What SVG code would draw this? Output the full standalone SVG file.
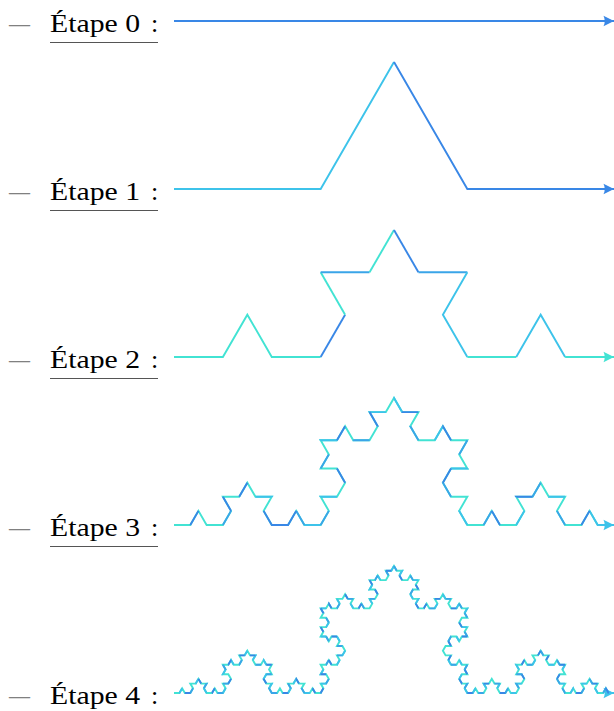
<svg xmlns="http://www.w3.org/2000/svg" width="614" height="711" viewBox="0 0 614 711">
<style>
.lbl{font-family:"Liberation Serif","Times New Roman",serif;font-size:26px;fill:#000}
.dash{font-family:"Liberation Serif","Times New Roman",serif;font-size:26px;fill:#808080}
.ul{stroke:#555;stroke-width:1.2}
.k{fill:none;stroke-width:1.9}
.ca{stroke:#42E3D3}
.cb{stroke:#3DC3EA}
.cc{stroke:#3AA5E8}
.cd{stroke:#3987E6}
</style>
<defs>
<marker id="arrA" markerUnits="userSpaceOnUse" markerWidth="14" markerHeight="14" viewBox="0 0 14 14" refX="12" refY="7" orient="auto"><path d="M12 7L1.5 1.8Q4 7 1.5 12.2Z" fill="#42E3D3"/></marker>
<marker id="arrB" markerUnits="userSpaceOnUse" markerWidth="14" markerHeight="14" viewBox="0 0 14 14" refX="12" refY="7" orient="auto"><path d="M12 7L1.5 1.8Q4 7 1.5 12.2Z" fill="#3DC3EA"/></marker>
<marker id="arrD" markerUnits="userSpaceOnUse" markerWidth="14" markerHeight="14" viewBox="0 0 14 14" refX="12" refY="7" orient="auto"><path d="M12 7L1.5 1.8Q4 7 1.5 12.2Z" fill="#3987E6"/></marker>
<path id="k3" pathLength="64" d="M174 525
h16.296 l8.148-14.113 l8.148 14.113 h16.296 l8.148-14.113 l-8.148-14.113 h16.296 l8.148-14.113 l8.148 14.113 h16.296 l-8.148 14.113 l8.148 14.113 h16.296 l8.148-14.113 l8.148 14.113 h16.296
l8.148-14.113 l-8.148-14.113 h16.296 l8.148-14.113 l-8.148-14.113 h-16.296 l8.148-14.113 l-8.148-14.113 h16.296 l8.148-14.113 l8.148 14.113 h16.296 l8.148-14.113 l-8.148-14.113 h16.296 l8.148-14.113
l8.148 14.113 h16.296 l-8.148 14.113 l8.148 14.113 h16.296 l8.148-14.113 l8.148 14.113 h16.296 l-8.148 14.113 l8.148 14.113 h-16.296 l-8.148 14.113 l8.148 14.113 h16.296 l-8.148 14.113 l8.148 14.113
h16.296 l8.148-14.113 l8.148 14.113 h16.296 l8.148-14.113 l-8.148-14.113 h16.296 l8.148-14.113 l8.148 14.113 h16.296 l-8.148 14.113 l8.148 14.113 h16.296 l8.148-14.113 l8.148 14.113 h16.296"/>
<path id="k4" pathLength="256" d="M174 693
h5.432 l2.716-4.704 l2.716 4.704 h5.432 l2.716-4.704 l-2.716-4.704 h5.432 l2.716-4.704 l2.716 4.704 h5.432 l-2.716 4.704 l2.716 4.704 h5.432 l2.716-4.704 l2.716 4.704 h5.432
l2.716-4.704 l-2.716-4.704 h5.432 l2.716-4.704 l-2.716-4.704 h-5.432 l2.716-4.704 l-2.716-4.704 h5.432 l2.716-4.704 l2.716 4.704 h5.432 l2.716-4.704 l-2.716-4.704 h5.432 l2.716-4.704
l2.716 4.704 h5.432 l-2.716 4.704 l2.716 4.704 h5.432 l2.716-4.704 l2.716 4.704 h5.432 l-2.716 4.704 l2.716 4.704 h-5.432 l-2.716 4.704 l2.716 4.704 h5.432 l-2.716 4.704 l2.716 4.704
h5.432 l2.716-4.704 l2.716 4.704 h5.432 l2.716-4.704 l-2.716-4.704 h5.432 l2.716-4.704 l2.716 4.704 h5.432 l-2.716 4.704 l2.716 4.704 h5.432 l2.716-4.704 l2.716 4.704 h5.432
l2.716-4.704 l-2.716-4.704 h5.432 l2.716-4.704 l-2.716-4.704 h-5.432 l2.716-4.704 l-2.716-4.704 h5.432 l2.716-4.704 l2.716 4.704 h5.432 l2.716-4.704 l-2.716-4.704 h5.432 l2.716-4.704
l-2.716-4.704 h-5.432 l2.716-4.704 l-2.716-4.704 h-5.432 l-2.716 4.704 l-2.716-4.704 h-5.432 l2.716-4.704 l-2.716-4.704 h5.432 l2.716-4.704 l-2.716-4.704 h-5.432 l2.716-4.704 l-2.716-4.704
h5.432 l2.716-4.704 l2.716 4.704 h5.432 l2.716-4.704 l-2.716-4.704 h5.432 l2.716-4.704 l2.716 4.704 h5.432 l-2.716 4.704 l2.716 4.704 h5.432 l2.716-4.704 l2.716 4.704 h5.432
l2.716-4.704 l-2.716-4.704 h5.432 l2.716-4.704 l-2.716-4.704 h-5.432 l2.716-4.704 l-2.716-4.704 h5.432 l2.716-4.704 l2.716 4.704 h5.432 l2.716-4.704 l-2.716-4.704 h5.432 l2.716-4.704
l2.716 4.704 h5.432 l-2.716 4.704 l2.716 4.704 h5.432 l2.716-4.704 l2.716 4.704 h5.432 l-2.716 4.704 l2.716 4.704 h-5.432 l-2.716 4.704 l2.716 4.704 h5.432 l-2.716 4.704 l2.716 4.704
h5.432 l2.716-4.704 l2.716 4.704 h5.432 l2.716-4.704 l-2.716-4.704 h5.432 l2.716-4.704 l2.716 4.704 h5.432 l-2.716 4.704 l2.716 4.704 h5.432 l2.716-4.704 l2.716 4.704 h5.432
l-2.716 4.704 l2.716 4.704 h-5.432 l-2.716 4.704 l2.716 4.704 h5.432 l-2.716 4.704 l2.716 4.704 h-5.432 l-2.716 4.704 l-2.716-4.704 h-5.432 l-2.716 4.704 l2.716 4.704 h-5.432 l-2.716 4.704
l2.716 4.704 h5.432 l-2.716 4.704 l2.716 4.704 h5.432 l2.716-4.704 l2.716 4.704 h5.432 l-2.716 4.704 l2.716 4.704 h-5.432 l-2.716 4.704 l2.716 4.704 h5.432 l-2.716 4.704 l2.716 4.704
h5.432 l2.716-4.704 l2.716 4.704 h5.432 l2.716-4.704 l-2.716-4.704 h5.432 l2.716-4.704 l2.716 4.704 h5.432 l-2.716 4.704 l2.716 4.704 h5.432 l2.716-4.704 l2.716 4.704 h5.432
l2.716-4.704 l-2.716-4.704 h5.432 l2.716-4.704 l-2.716-4.704 h-5.432 l2.716-4.704 l-2.716-4.704 h5.432 l2.716-4.704 l2.716 4.704 h5.432 l2.716-4.704 l-2.716-4.704 h5.432 l2.716-4.704
l2.716 4.704 h5.432 l-2.716 4.704 l2.716 4.704 h5.432 l2.716-4.704 l2.716 4.704 h5.432 l-2.716 4.704 l2.716 4.704 h-5.432 l-2.716 4.704 l2.716 4.704 h5.432 l-2.716 4.704 l2.716 4.704
h5.432 l2.716-4.704 l2.716 4.704 h5.432 l2.716-4.704 l-2.716-4.704 h5.432 l2.716-4.704 l2.716 4.704 h5.432 l-2.716 4.704 l2.716 4.704 h5.432 l2.716-4.704 l2.716 4.704 h5.432"/>
</defs>

<g id="etape0">
  <g id="label0">
    <text class="dash" x="9" y="32" textLength="21" lengthAdjust="spacingAndGlyphs">—</text>
    <text class="lbl" x="50" y="32" textLength="90" lengthAdjust="spacingAndGlyphs">Étape 0</text>
    <text class="lbl" x="151" y="32">:</text>
    <line class="ul" x1="50" y1="42.5" x2="158" y2="42.5"/>
  </g>
  <g id="curve0">
    <path class="k cd" d="M174 21H614" marker-end="url(#arrD)"/>
  </g>
</g>

<g id="etape1">
  <g id="label1">
    <text class="dash" x="9" y="200" textLength="21" lengthAdjust="spacingAndGlyphs">—</text>
    <text class="lbl" x="50" y="200" textLength="90" lengthAdjust="spacingAndGlyphs">Étape 1</text>
    <text class="lbl" x="151" y="200">:</text>
    <line class="ul" x1="50" y1="210.5" x2="158" y2="210.5"/>
  </g>
  <g id="curve1">
    <path class="k cb" d="M174 189H320.667L394 61.983"/>
    <path class="k cd" d="M394 61.983L467.333 189H614" marker-end="url(#arrD)"/>
  </g>
</g>

<g id="etape2">
  <g id="label2">
    <text class="dash" x="9" y="368" textLength="21" lengthAdjust="spacingAndGlyphs">—</text>
    <text class="lbl" x="50" y="368" textLength="90" lengthAdjust="spacingAndGlyphs">Étape 2</text>
    <text class="lbl" x="151" y="368">:</text>
    <line class="ul" x1="50" y1="378.5" x2="158" y2="378.5"/>
  </g>
  <g id="curve2">
    <path class="k ca" d="M174 357H222.889L247.333 314.661L271.778 357H320.667"/>
    <path class="k cd" d="M320.667 357L345.111 314.661"/>
    <path class="k ca" d="M345.111 314.661L320.667 272.322"/>
    <path class="k cc" d="M320.667 272.322H369.556"/>
    <path class="k ca" d="M369.556 272.322L394 229.983"/>
    <path class="k cd" d="M394 229.983L418.444 272.322"/>
    <path class="k cc" d="M418.444 272.322H467.333"/>
    <path class="k cb" d="M467.333 272.322L442.889 314.661L467.333 357"/>
    <path class="k ca" d="M467.333 357H516.222"/>
    <path class="k cb" d="M516.222 357L540.667 314.661L565.111 357"/>
    <path class="k ca" d="M565.111 357H614" marker-end="url(#arrA)"/>
  </g>
</g>

<g id="etape3">
  <g id="label3">
    <text class="dash" x="9" y="536" textLength="21" lengthAdjust="spacingAndGlyphs">—</text>
    <text class="lbl" x="50" y="536" textLength="90" lengthAdjust="spacingAndGlyphs">Étape 3</text>
    <text class="lbl" x="151" y="536">:</text>
    <line class="ul" x1="50" y1="546.5" x2="158" y2="546.5"/>
  </g>
  <g id="curve3">
    <use href="#k3" class="k ca" marker-end="url(#arrB)"/>
    <use href="#k3" class="k cb" stroke-dasharray="0 9 1 5 1 2 1 5 1 5 1 1 1 4 1 4 1 4 1 4 1 4 1 4 2 99"/>
    <use href="#k3" class="k cc" stroke-dasharray="0 4 1 9 1 1 1 5 1 4 1 7 1 4 1 3 1 4 1 5 1 3 1 99"/>
    <use href="#k3" class="k cd" stroke-dasharray="0 1 1 3 1 1 1 3 3 6 1 4 1 3 1 3 1 4 1 4 1 6 1 3 1 6 1 99"/>
  </g>
</g>

<g id="etape4">
  <g id="label4">
    <text class="dash" x="9" y="704" textLength="21" lengthAdjust="spacingAndGlyphs">—</text>
    <text class="lbl" x="50" y="704" textLength="90" lengthAdjust="spacingAndGlyphs">Étape 4</text>
    <text class="lbl" x="151" y="704">:</text>
  </g>
  <g id="curve4">
    <use href="#k4" class="k ca" marker-end="url(#arrB)"/>
    <use href="#k4" class="k cb" stroke-dasharray="0 1 1 5 1 3 1 4 1 5 1 3 1 4 1 2 1 3 1 4 1 2 1 5 1 2 1 4 1 5 1 3 1 5 1 2 1 3 1 3 1 3 1 4 1 4 1 5 1 5 1 4 1 3 1 4 1 2 1 4 1 4 1 1 1 5 1 3 1 4 1 2 1 4 1 4 1 8 1 2 1 4 1 3 1 1 1 3 1 4 1 4 1 2 1 4 1 4 1 7 1 3 1 4 1 3 1 4 1 4 1 3 1 99"/>
    <use href="#k4" class="k cc" stroke-dasharray="0 4 1 5 1 4 1 2 1 4 1 4 1 7 1 5 1 4 2 4 1 5 1 7 1 5 1 4 1 2 1 4 1 5 1 7 1 4 1 4 1 3 1 6 1 3 1 2 1 5 1 4 1 7 1 5 1 4 1 2 1 5 1 4 1 7 1 3 1 5 1 4 1 5 1 3 1 3 1 3 1 5 1 4 1 5 1 5 1 2 1 4 1 3 1 4 1 99"/>
    <use href="#k4" class="k cd" stroke-dasharray="0 3 1 4 1 4 1 5 1 5 1 4 1 2 1 5 1 4 1 6 1 4 1 5 1 1 1 4 1 4 1 9 1 4 1 5 1 2 1 5 1 4 1 6 1 2 1 6 1 4 1 5 1 5 1 1 1 4 1 5 1 7 1 3 1 4 1 4 1 6 1 2 1 3 1 5 1 5 1 7 1 4 1 5 1 2 1 4 1 3 1 7 1 5 1 4 1 99"/>
  </g>
</g>
</svg>
